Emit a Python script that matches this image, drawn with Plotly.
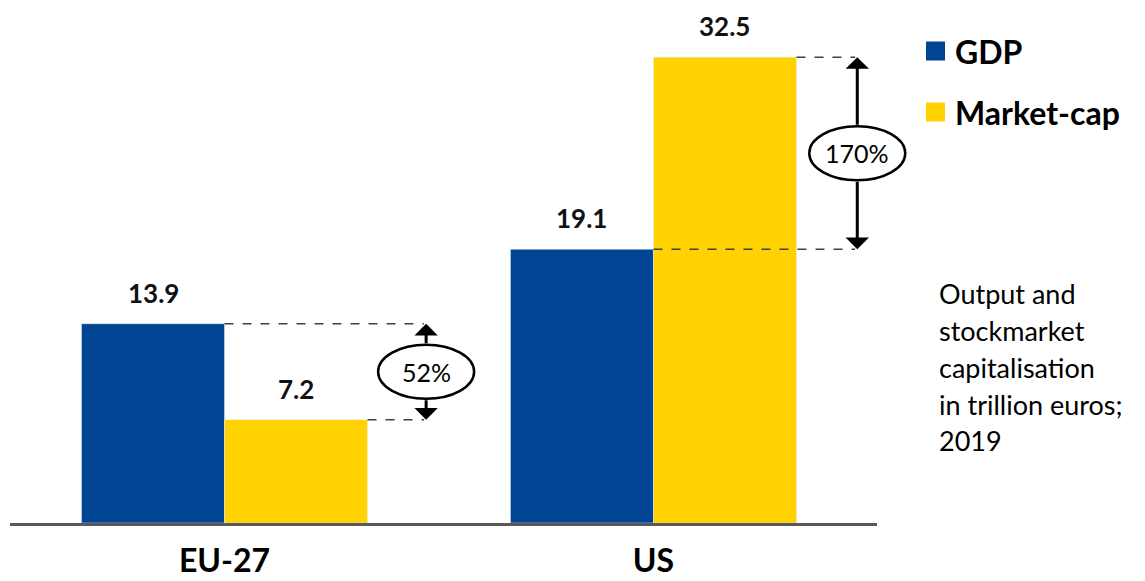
import plotly.graph_objects as go

# ---- data ----
categories = ["EU-27", "US"]
gdp = [13.9, 19.1]
market_cap = [7.2, 32.5]
gap_labels = ["52%", "170%"]
series_names = ["GDP", "Market-cap"]
side_note = ["Output and", "stockmarket", "capitalisation", "in trillion euros;", "2019"]

# ---- layout constants ----
W, H = 1145, 581
L, R, T, B = 10, 268, 7, 58
PLOT_W = W - L - R
PLOT_H = H - T - B
YMAX = 36.0
XR = [-0.5, 1.521]
SCALE = PLOT_H / YMAX  # px per data unit

BLUE = "#004494"
YELLOW = "#FFD200"
FONT = "Lato"


def px_x(px):
    return (px - L) / PLOT_W


def px_y(py):
    return (H - B - py) / PLOT_H


def dx_paper(x):
    return (x - XR[0]) / (XR[1] - XR[0])


def dy_paper(y):
    return y / YMAX


fig = go.Figure()
fig.add_trace(go.Bar(x=categories, y=gdp, name=series_names[0], marker_color=BLUE,
                     showlegend=False, hoverinfo="skip"))
fig.add_trace(go.Bar(x=categories, y=market_cap, name=series_names[1], marker_color=YELLOW,
                     showlegend=False, hoverinfo="skip"))

shapes = []
annotations = []

# value labels above bars
bw = 1 / 3
for i in range(len(categories)):
    for val, off in ((gdp[i], -bw / 2), (market_cap[i], bw / 2)):
        annotations.append(dict(x=i + off, y=val, xref="x", yref="y", text=f"<b>{val:.1f}</b>",
                                showarrow=False, yanchor="middle", yshift=31,
                                font=dict(family=FONT, size=26, color="#111111")))

# gap arrows
ARROW_X = [0.47, 1.475]
ELL_HW, ELL_HH = 48, 27
for i in range(len(categories)):
    hi = max(gdp[i], market_cap[i])
    lo = min(gdp[i], market_cap[i])
    xa = ARROW_X[i]
    mid = (hi + lo) / 2
    # dashed guide lines
    hi_start = i if gdp[i] >= market_cap[i] else i + bw
    lo_start = i + bw if gdp[i] >= market_cap[i] else i
    for y0, xs in ((hi, hi_start), (lo, lo_start)):
        shapes.append(dict(type="line", xref="x", yref="y", x0=xs, x1=xa - 0.005, y0=y0, y1=y0,
                           line=dict(color="#404040", width=1.5, dash="dash"), layer="above"))
    # arrows from ellipse edges to the levels
    for tip, tail in ((hi, mid + ELL_HH / SCALE), (lo, mid - ELL_HH / SCALE)):
        annotations.append(dict(x=xa, y=tip, xref="x", yref="y", ax=xa, ay=tail,
                                axref="x", ayref="y", text="", showarrow=True,
                                arrowhead=1, arrowsize=1.3, arrowwidth=3, arrowcolor="#000000",
                                standoff=0))
    shapes.append(dict(type="circle", xref="paper", yref="paper", xsizemode="pixel", ysizemode="pixel",
                       xanchor=dx_paper(xa), yanchor=dy_paper(mid),
                       x0=-ELL_HW, x1=ELL_HW, y0=-ELL_HH, y1=ELL_HH,
                       fillcolor="white", line=dict(color="#000000", width=2.5), layer="above"))
    annotations.append(dict(x=xa, y=mid, xref="x", yref="y", text=gap_labels[i], showarrow=False,
                            font=dict(family=FONT, size=25, color="#000000")))

# legend (manual)
LEG = [(BLUE, series_names[0], 51), (YELLOW, series_names[1], 112)]
for color, name, cy in LEG:
    shapes.append(dict(type="rect", xref="paper", yref="paper",
                       x0=px_x(926), x1=px_x(945), y0=px_y(cy + 9.5), y1=px_y(cy - 9.5),
                       fillcolor=color, line=dict(width=0)))
    annotations.append(dict(x=px_x(953), y=px_y(cy), xref="paper", yref="paper",
                            text=f"<b>{name}</b>", showarrow=False, xanchor="left", yanchor="middle",
                            font=dict(family=FONT, size=32, color="#000000")))

# side note
for k, line in enumerate(side_note):
    annotations.append(dict(x=px_x(937), y=px_y(293 + 37 * k), xref="paper", yref="paper",
                            text=line, showarrow=False, xanchor="left", yanchor="middle",
                            font=dict(family=FONT, size=27, color="#000000")))

fig.update_layout(
    width=W, height=H,
    margin=dict(l=L, r=R, t=T, b=B, pad=0, autoexpand=False),
    paper_bgcolor="white", plot_bgcolor="white",
    barmode="group", bargap=1 / 3, bargroupgap=0,
    showlegend=False,
    shapes=shapes, annotations=annotations,
    xaxis=dict(range=XR, showline=True, linecolor="#595959", linewidth=3,
               ticks="outside", ticklen=8, tickcolor="rgba(0,0,0,0)", automargin=False,
               tickfont=dict(family=FONT, size=32, color="#000000"),
               tickvals=categories, ticktext=[f"<b>{c}</b>" for c in categories],
               showgrid=False, zeroline=False, fixedrange=True),
    yaxis=dict(range=[0, YMAX], visible=False, showgrid=False, zeroline=False, fixedrange=True,
               automargin=False),
)

fig.write_html("out.html", config={"displayModeBar": False})
